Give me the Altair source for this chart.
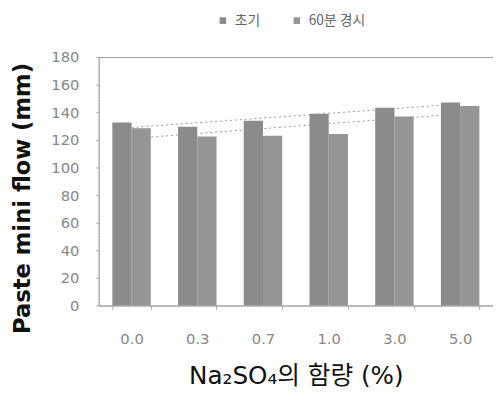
import altair as alt
import pandas as pd

categories = ["0.0", "0.3", "0.7", "1.0", "3.0", "5.0"]
series_names = ["초기", "60분 경시"]
initial = [132.5, 129.5, 133.8, 139.0, 143.3, 147.0]
after60 = [128.5, 122.4, 123.0, 124.3, 136.9, 144.5]
y_ticks = [0, 20, 40, 60, 80, 100, 120, 140, 160, 180]

rows = []
for i, c in enumerate(categories):
    rows.append({"cat": c, "idx": i, "series": series_names[0], "v": initial[i]})
    rows.append({"cat": c, "idx": i, "series": series_names[1], "v": after60[i]})
df = pd.DataFrame(rows)

yaxis = alt.Axis(
    values=y_ticks, grid=False, title="Paste mini flow (mm)",
    titleFont="DejaVu Sans", titleFontWeight="bold", titleFontSize=23, titleColor="#111",
    titleAngle=-90, titleX=-77, titleY=143, titleAlign="center", titleBaseline="middle",
    labelFont="DejaVu Sans", labelFontSize=15, labelColor="#888", labelPadding=17,
    tickSize=3, tickColor="#aaa", domainColor="#aaa", domainDash=[2, 1],
)
yscale = alt.Scale(domain=[0, 180], nice=False)

bars = alt.Chart(df).mark_bar().encode(
    x=alt.X("cat:N", sort=categories,
            scale=alt.Scale(paddingInner=0.415, paddingOuter=0.2075),
            axis=alt.Axis(
                labelAngle=0, title="Na₂SO₄의 함량 (%)",
                titleFont="DejaVu Sans, Noto Sans CJK KR", titleFontSize=25,
                titleFontWeight="normal", titleColor="#111",
                titleY=71, titleBaseline="middle",
                labelFont="DejaVu Sans", labelFontSize=15, labelColor="#888",
                labelPadding=23, tickBand="extent", tickSize=4, tickColor="#aaa",
                domainColor="#aaa")),
    xOffset=alt.XOffset("series:N", sort=series_names,
                        scale=alt.Scale(paddingInner=0, paddingOuter=0)),
    y=alt.Y("v:Q", scale=yscale, axis=yaxis),
    color=alt.Color("series:N",
                    scale=alt.Scale(domain=series_names, range=["#8b8b8b", "#959595"]),
                    sort=series_names,
                    legend=alt.Legend(
                        orient="none", legendX=119, legendY=-44, direction="horizontal",
                        title=None, symbolType="square", symbolSize=45,
                        symbolStrokeWidth=0,
                        labelFont="Noto Sans CJK KR", labelFontSize=14, labelColor="#666",
                        columnPadding=30, labelOffset=5)),
)

trend = alt.Chart(df).transform_regression(
    "idx", "v", groupby=["series"]
).mark_line(strokeDash=[2, 3], color="#999", strokeWidth=1).encode(
    x=alt.X("idx:Q", scale=alt.Scale(domain=[-0.5, 5.5], nice=False, zero=False), axis=None),
    y=alt.Y("v:Q", scale=yscale, axis=yaxis),
    detail="series:N",
)

chart = alt.layer(trend, bars).resolve_scale(x="independent").properties(
    width=400, height=252,
    autosize=alt.AutoSizeParams(type="none"),
    padding={"left": 92, "top": 47, "right": 0, "bottom": 86},
).configure_view(stroke="#999")

chart.save("out.html", embed_options={"renderer": "svg", "actions": False})
